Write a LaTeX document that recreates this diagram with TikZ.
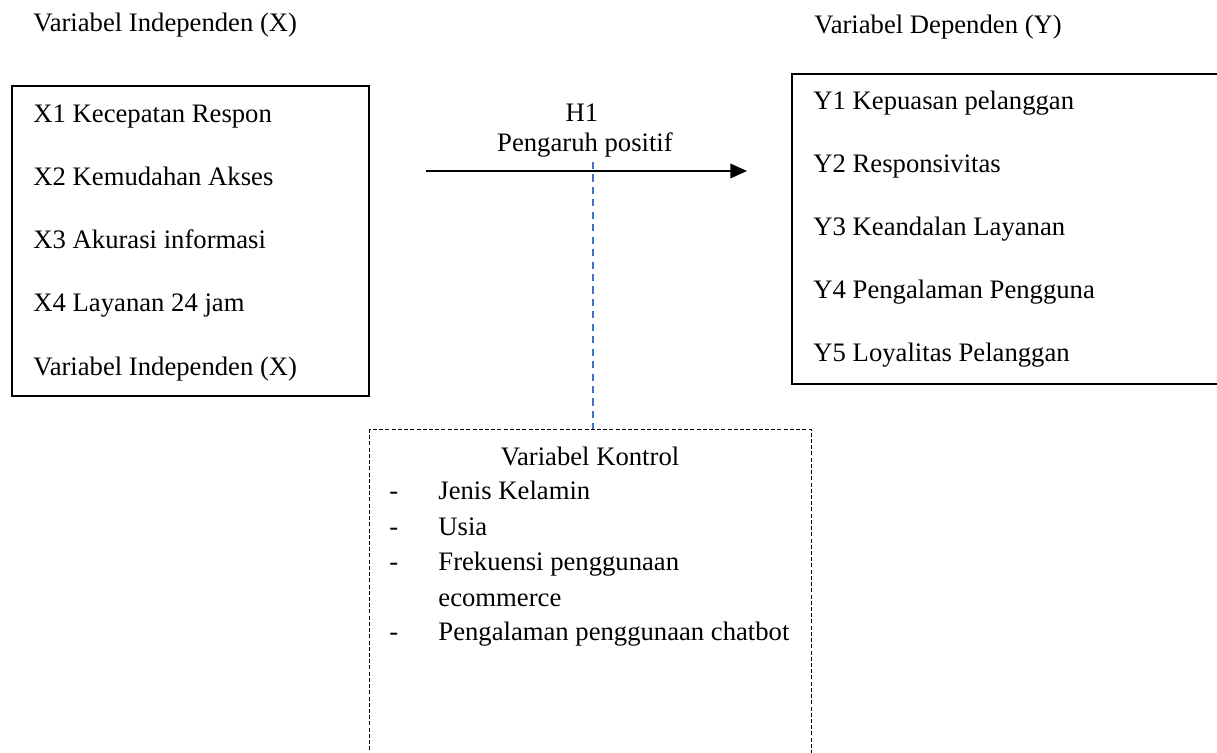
\documentclass[tikz,border=0pt]{standalone}
\usepackage{fontspec}
\setmainfont{Liberation Serif}
\usetikzlibrary{arrows.meta}
\definecolor{garisbiru}{RGB}{68,114,196}

\begin{document}
\begin{tikzpicture}[x=0.45pt, y=-0.45pt,
		every node/.style={font=\fontsize{12}{14}\selectfont, inner sep=0pt},
		item/.style={anchor=base west},
		varbox/.style={draw, line width=0.6pt},
		kontrolbox/.style={draw, line width=0.45pt, dash pattern=on 1.8pt off 1pt},
		garis/.style={garisbiru, line width=0.6pt, dash pattern=on 3.2pt off 2.4pt},
		panah/.style={line width=0.9pt, -{Triangle[length=7.5pt, width=6.5pt]}}]
		\useasboundingbox (0,0) rectangle (1217,753);

		\node[item] (judulx) at (33,32) {Variabel Independen (X)};
		\node[item] (juduly) at (814,34) {Variabel Dependen (Y)};

		\draw[varbox] (12,86) rectangle (369,396);
		\foreach \t [count=\i] in {X1 Kecepatan Respon, X2 Kemudahan Akses,
				X3 Akurasi informasi, X4 Layanan 24 jam, Variabel Independen (X)}
			\node[item] (x\i) at (33,60+63*\i) {\t};

		\draw[varbox] (792,74) rectangle (1240,384);
		\foreach \t [count=\i] in {Y1 Kepuasan pelanggan, Y2 Responsivitas,
				Y3 Keandalan Layanan, Y4 Pengalaman Pengguna, Y5 Loyalitas Pelanggan}
			\node[item] (y\i) at (813,47+63*\i) {\t};

		\node[anchor=base] (hipo) at (582,122) {H1};
		\node[anchor=base] (arah) at (585,152) {Pengaruh positif};
		\coordinate (as) at (426,171);
		\coordinate (ae) at (747,171);
		\draw[panah] (as) -- (ae);

		\draw[kontrolbox] (369,429) coordinate (kt) rectangle (811,775);
		\coordinate (gs) at (593,162);
		\draw[garis] (gs) -- (gs |- kt);

		\node[anchor=base] (kontrol) at (590,465) {Variabel Kontrol};
		\foreach \t/\yy in {Jenis Kelamin/499, Usia/535, Frekuensi penggunaan/570,
				Pengalaman penggunaan chatbot/640} {
			\node[item] at (389,\yy) {-};
			\node[item] at (438,\yy) {\t};
		}
		\node[item] (ecom) at (438,606) {ecommerce};
	\end{tikzpicture}
\end{document}
